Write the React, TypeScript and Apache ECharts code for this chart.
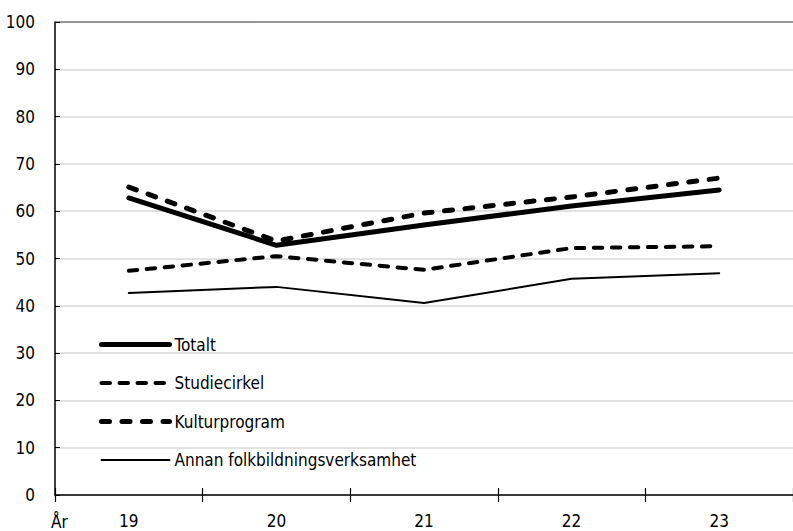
import React, { useEffect, useRef } from "react";
import * as echarts from "echarts";

const categories = ["19", "20", "21", "22", "23"];
const totalt = [62.8, 52.8, 57.1, 61.1, 64.5];
const studiecirkel = [47.4, 50.5, 47.6, 52.2, 52.6];
const kulturprogram = [65.1, 53.7, 59.6, 63.0, 67.0];
const annan = [42.7, 44.0, 40.6, 45.7, 46.9];
const yTicks = { min: 0, max: 100, interval: 10 };

const FONT = "'Liberation Sans Narrow', 'DejaVu Sans Condensed', 'Roboto Condensed', sans-serif";

const styles: Record<string, { width: number; type: any }> = {
  Totalt: { width: 5, type: "solid" },
  Studiecirkel: { width: 4, type: [8.5, 9.5] },
  Kulturprogram: { width: 5, type: [8, 12.5] },
  "Annan folkbildningsverksamhet": { width: 2, type: "solid" },
};

export default function App() {
  const ref = useRef<HTMLDivElement>(null);
  useEffect(() => {
    if (!ref.current) return;
    const chart = echarts.init(ref.current, undefined, { renderer: "svg" });
    const mk = (name: string, data: number[]) => ({
      name,
      type: "line",
      data,
      showSymbol: false,
      symbol: "none",
      xAxisIndex: 0,
      lineStyle: { color: "#000", width: styles[name].width, type: styles[name].type, cap: "round", join: "round" },
      itemStyle: { color: "#000" },
      z: 5,
    });
    const names = ["Totalt", "Studiecirkel", "Kulturprogram", "Annan folkbildningsverksamhet"];
    chart.setOption({
      animation: false,
      textStyle: { fontFamily: FONT },
      grid: { left: 55, right: -4, top: 22, bottom: 36 },
      legend: {
        orient: "vertical",
        left: 99,
        top: 336,
        padding: 0,
        itemWidth: 68,
        itemHeight: 12,
        itemGap: 21.5,
        itemStyle: { opacity: 0 },
        textStyle: { fontFamily: FONT, fontSize: 17, color: "#000" },
        data: names.map((n) => ({
          name: n,
          lineStyle: { color: "#000", width: styles[n].width, type: styles[n].type, cap: "round" },
        })),
      },
      xAxis: [
        {
          type: "category",
          data: categories,
          boundaryGap: true,
          axisLine: { lineStyle: { color: "#000", width: 1.5 } },
          axisTick: { show: true, length: 7, lineStyle: { color: "#000", width: 1.2 } },
          axisLabel: { color: "#000", fontSize: 17, margin: 17, fontFamily: FONT },
          splitLine: { show: false },
        },
        {
          type: "category",
          data: categories,
          position: "bottom",
          boundaryGap: true,
          axisLine: { show: false },
          axisTick: { show: true, inside: true, length: 7, lineStyle: { color: "#000", width: 1.2 } },
          axisLabel: { show: false },
          splitLine: { show: false },
        },
        {
          type: "category",
          data: categories,
          position: "top",
          axisLine: { show: true, lineStyle: { color: "#7f7f7f", width: 1.5 } },
          axisTick: { show: false },
          axisLabel: { show: false },
        },
      ],
      yAxis: {
        type: "value",
        min: yTicks.min,
        max: yTicks.max,
        interval: yTicks.interval,
        axisLine: { show: true, lineStyle: { color: "#000", width: 1.5 } },
        axisTick: { show: true, inside: true, length: 5, lineStyle: { color: "#000" } },
        axisLabel: { color: "#000", fontSize: 17, margin: 20, fontFamily: FONT },
        splitLine: { lineStyle: { color: "#d9d9d9", width: 1.5 } },
      },
      graphic: [
        {
          type: "text",
          left: 51,
          top: 513,
          style: { text: "År", fontSize: 17, fontFamily: FONT, fill: "#000" },
        },
      ],
      series: [
        mk("Totalt", totalt),
        mk("Studiecirkel", studiecirkel),
        mk("Kulturprogram", kulturprogram),
        mk("Annan folkbildningsverksamhet", annan),
      ],
    });
    return () => chart.dispose();
  }, []);
  return (
    <div
      ref={ref}
      style={{ position: "fixed", left: 0, top: 0, width: 793, height: 531, background: "#fff" }}
    />
  );
}
